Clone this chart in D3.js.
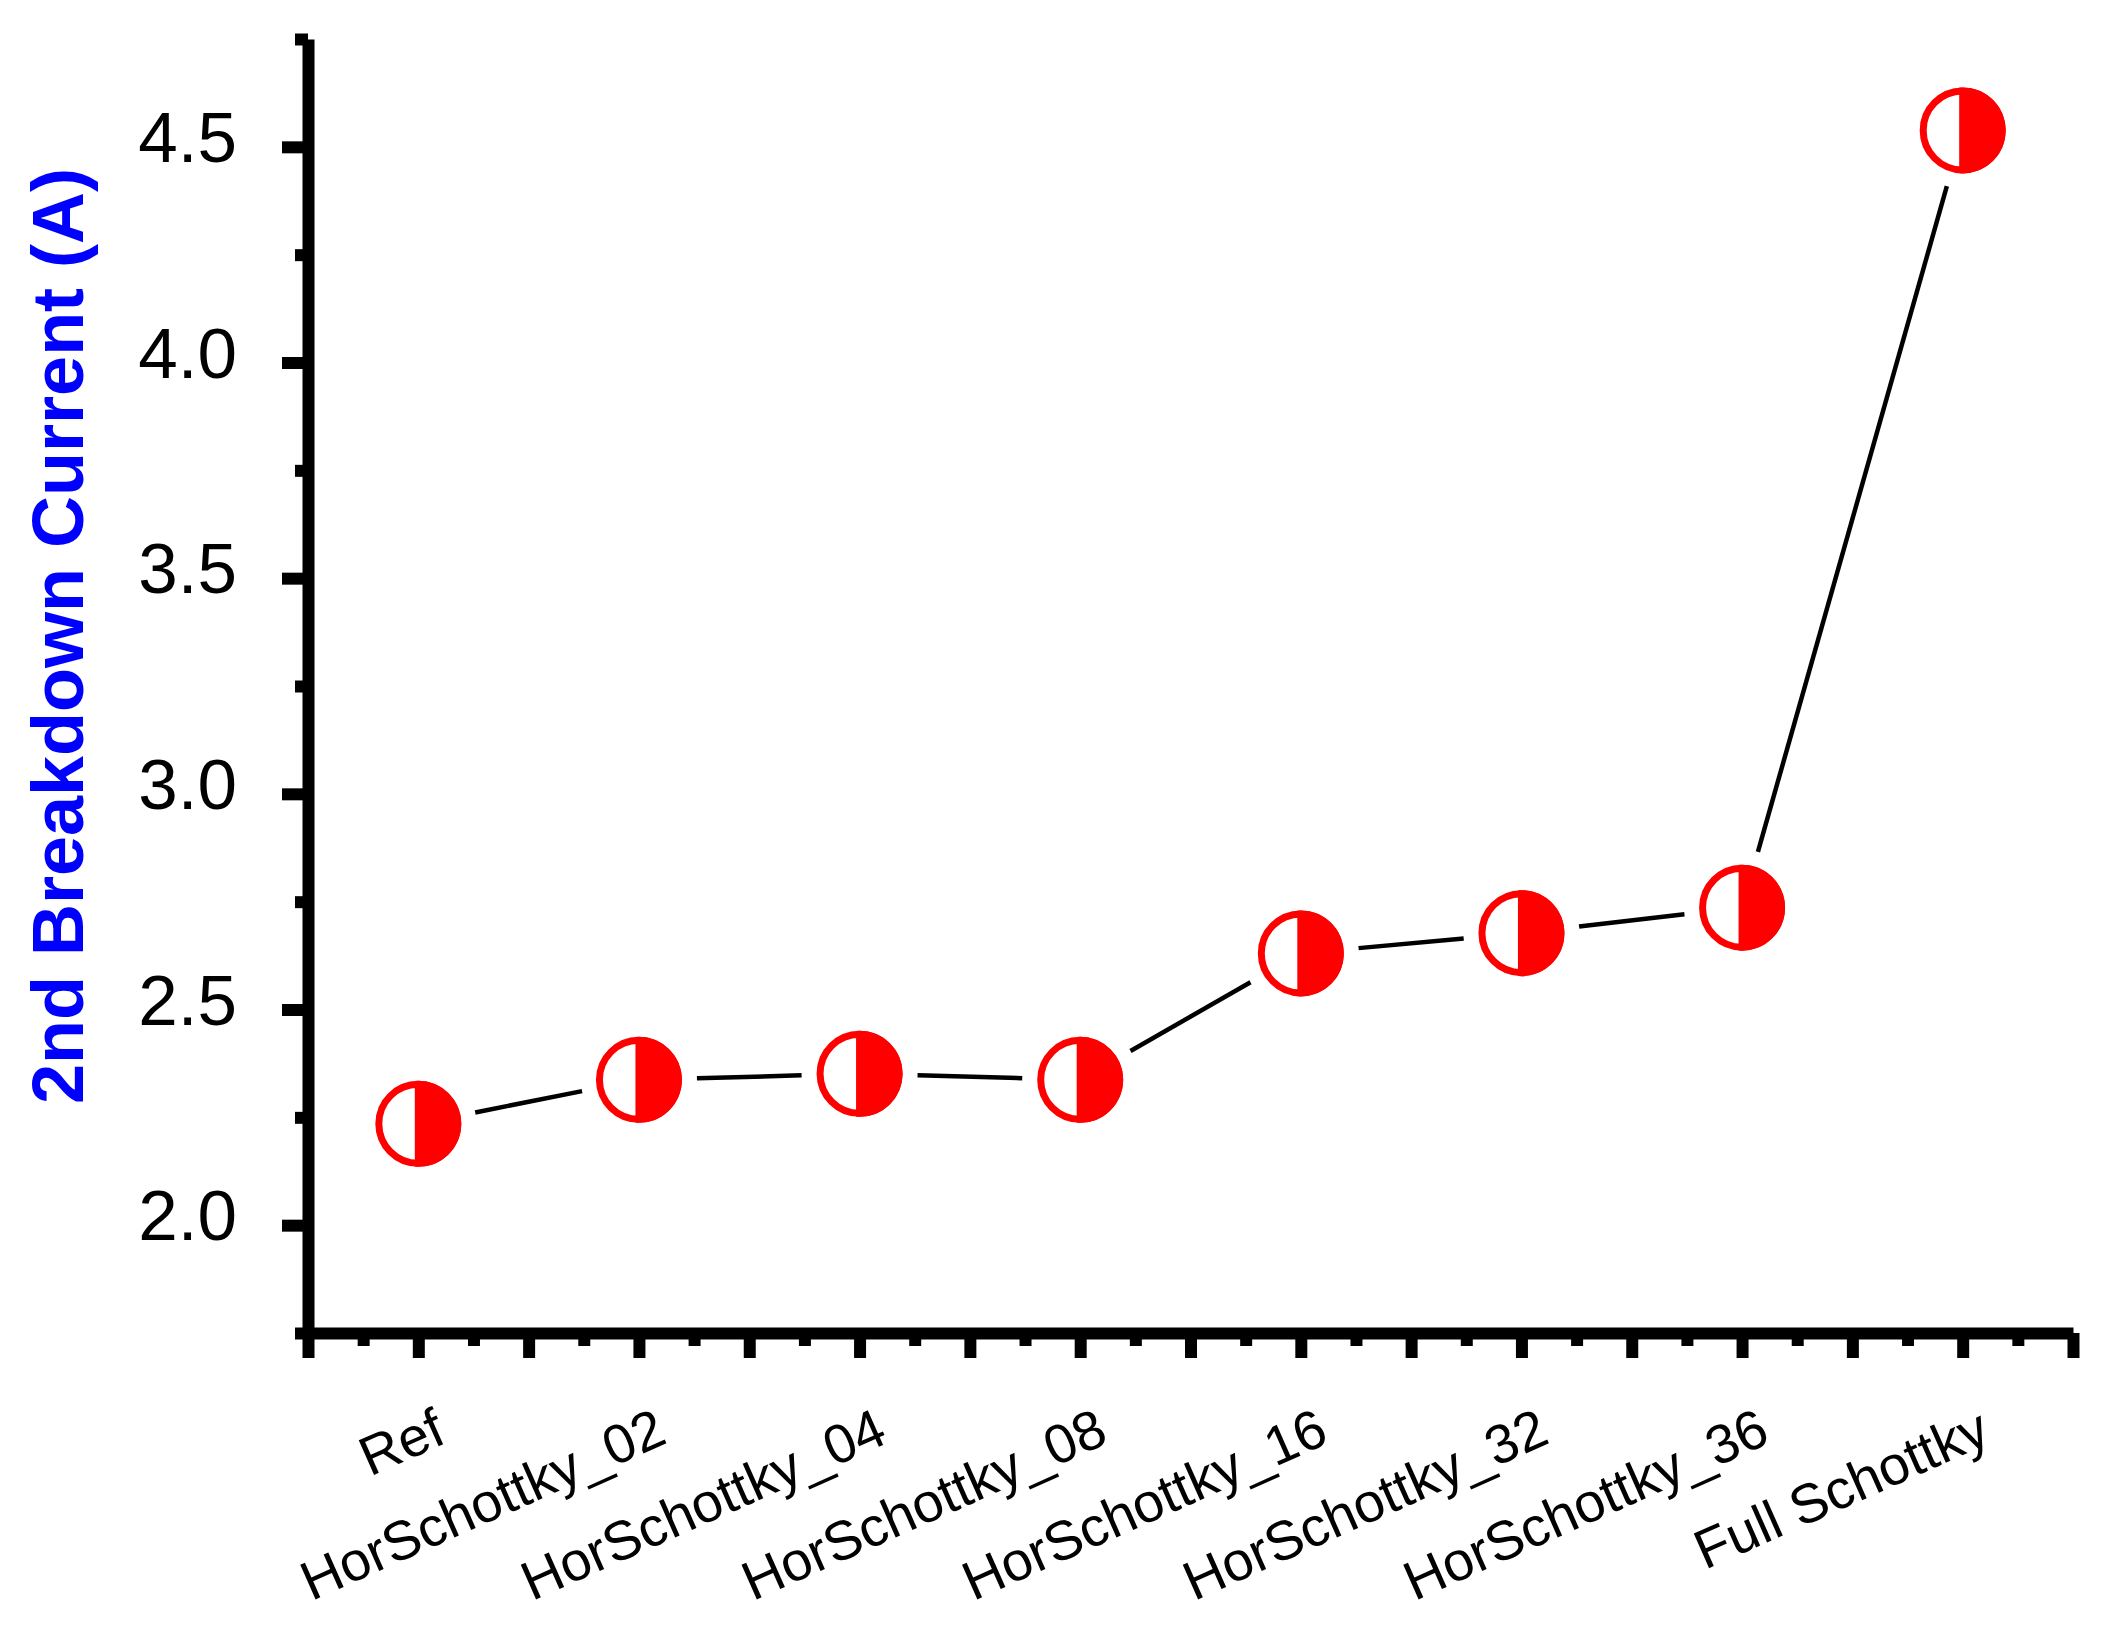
<!DOCTYPE html>
<html>
<head>
<meta charset="utf-8">
<script src="https://cdn.jsdelivr.net/npm/d3@7"></script>
<style>
  html, body { margin: 0; padding: 0; background: #fff; }
  svg { display: block; }
  text { font-family: "Liberation Sans", Arial, sans-serif; }
</style>
</head>
<body>
<svg id="chart" width="2113" height="1630"></svg>
<script>
const categories = ["Ref", "HorSchottky_02", "HorSchottky_04", "HorSchottky_08",
                    "HorSchottky_16", "HorSchottky_32", "HorSchottky_36", "Full Schottky"];
const values = [2.235, 2.337, 2.351, 2.337, 2.630, 2.677, 2.736, 4.538];
const yMajorTicks = [2.0, 2.5, 3.0, 3.5, 4.0, 4.5];
const yMinorTicks = [1.75, 2.25, 2.75, 3.25, 3.75, 4.25, 4.75];
const xMajorTicks = [0.5, 1, 1.5, 2, 2.5, 3, 3.5, 4, 4.5, 5, 5.5, 6, 6.5, 7, 7.5, 8, 8.5];
const xMinorTicks = [0.75, 1.25, 1.75, 2.25, 2.75, 3.25, 3.75, 4.25, 4.75, 5.25, 5.75, 6.25, 6.75, 7.25, 7.75, 8.25];
const yTitle = "2nd Breakdown Current (A)";

const svg = d3.select("#chart");
const x = d3.scaleLinear().domain([0.5, 8.5]).range([308, 2073]);
const y = d3.scaleLinear().domain([1.75, 4.75]).range([1333, 39]);

const AX_W = 12;

// Y axis
const yAxisMajor = d3.axisLeft(y).tickValues(yMajorTicks).tickFormat(d3.format(".1f"))
  .tickSize(26).tickPadding(45).tickSizeOuter(0);
const gy = svg.append("g").attr("transform", `translate(${x(0.5)},0)`).call(yAxisMajor);
gy.select(".domain").attr("stroke", "#000").attr("stroke-width", AX_W);
gy.selectAll(".tick line").attr("stroke", "#000").attr("stroke-width", AX_W);
gy.selectAll(".tick text").attr("font-size", 71).attr("fill", "#000")
  .attr("dy", 14.5).style("font-family", "'Liberation Sans', Arial, sans-serif");

const yAxisMinor = d3.axisLeft(y).tickValues(yMinorTicks).tickFormat("").tickSize(13).tickSizeOuter(0);
const gym = svg.append("g").attr("transform", `translate(${x(0.5)},0)`).call(yAxisMinor);
gym.select(".domain").remove();
gym.selectAll(".tick line").attr("stroke", "#000").attr("stroke-width", AX_W);

// X axis
const xAxisMajor = d3.axisBottom(x).tickValues(xMajorTicks).tickFormat("").tickSize(25).tickSizeOuter(0);
const gx = svg.append("g").attr("transform", `translate(0,${y(1.75)})`).call(xAxisMajor);
gx.select(".domain").attr("stroke", "#000").attr("stroke-width", AX_W);
gx.selectAll(".tick line").attr("stroke", "#000").attr("stroke-width", AX_W);

const xAxisMinor = d3.axisBottom(x).tickValues(xMinorTicks).tickFormat("").tickSize(13).tickSizeOuter(0);
const gxm = svg.append("g").attr("transform", `translate(0,${y(1.75)})`).call(xAxisMinor);
gxm.select(".domain").remove();
gxm.selectAll(".tick line").attr("stroke", "#000").attr("stroke-width", AX_W);

// X category labels (rotated)
svg.append("g").selectAll("text").data(categories).join("text")
  .attr("transform", (d, i) => `translate(${x(i + 1) + 30},1442) rotate(-24)`)
  .attr("text-anchor", "end")
  .attr("font-size", 55)
  .attr("fill", "#000")
  .text(d => d);

// Y title
svg.append("text")
  .attr("transform", `translate(83,636) rotate(-90)`)
  .attr("text-anchor", "middle")
  .attr("font-size", 72)
  .attr("font-weight", "bold")
  .attr("fill", "#0000FF")
  .text(yTitle);

// Connecting line segments with gaps around markers
const pts = values.map((v, i) => [x(i + 1), y(v)]);
const GAP = 58;
const segs = [];
for (let i = 0; i < pts.length - 1; i++) {
  const [x0, y0] = pts[i], [x1, y1] = pts[i + 1];
  const dx = x1 - x0, dy = y1 - y0, L = Math.hypot(dx, dy);
  const ux = dx / L, uy = dy / L;
  segs.push([[x0 + ux * GAP, y0 + uy * GAP], [x1 - ux * GAP, y1 - uy * GAP]]);
}
svg.append("g").selectAll("path").data(segs).join("path")
  .attr("d", d => d3.line()(d))
  .attr("stroke", "#000").attr("stroke-width", 4.5).attr("fill", "none");

// Half-filled circle markers
const R = 43, RING = 7, OFF = 3.5;
const mk = svg.append("g").selectAll("g").data(values).join("g")
  .attr("transform", (d, i) => `translate(${x(i + 1)},${y(d)})`);
mk.append("circle").attr("r", R - RING / 2).attr("fill", "#fff")
  .attr("stroke", "#FF0000").attr("stroke-width", RING);
const h = Math.sqrt(R * R - OFF * OFF);
mk.append("path")
  .attr("d", `M${-OFF},${-h} A${R},${R} 0 1 1 ${-OFF},${h} Z`)
  .attr("fill", "#FF0000");
</script>
</body>
</html>
